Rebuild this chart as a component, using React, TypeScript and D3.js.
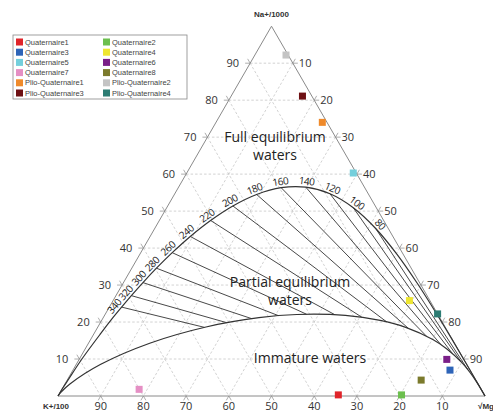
import React, { useEffect, useRef } from 'react';
import * as d3 from 'd3';

// full equilibrium curve (percent of Na/1000, K/100, sqrt Mg), temperatures in °C
const eqTemps = [1000, 700, 500, 400, 360, 340, 320, 300, 280, 260, 240, 220, 200, 180, 160, 140, 120, 100, 80, 60, 40, 20, 0];
const eqNa = [2.15, 4.5, 10.0, 16.85, 21.3, 24.04, 27.14, 30.67, 34.56, 38.76, 43.15, 47.47, 51.4, 54.5, 56.33, 56.46, 54.68, 50.9, 45.3, 38.3, 30.55, 22.73, 15.58];
const eqK = [97.8, 95.3, 89.4, 81.6, 76.4, 73.08, 69.25, 64.77, 59.66, 53.87, 47.45, 40.53, 33.35, 26.23, 19.57, 13.72, 8.96, 5.39, 2.95, 1.45, 0.63, 0.23, 0.07];
const eqMg = [0.05, 0.2, 0.6, 1.55, 2.3, 2.88, 3.61, 4.56, 5.78, 7.37, 9.4, 12.0, 15.25, 19.27, 24.1, 29.82, 36.36, 43.71, 51.75, 60.25, 68.82, 77.04, 84.35];

// labelled Na/K isotherms, end point on the immature waters line
const isoTemps = [340, 320, 300, 280, 260, 240, 220, 200, 180, 160, 140, 120, 100, 80];
const isoEndNa = [18.57, 19.83, 20.92, 21.72, 22.11, 22.0, 21.31, 20.06, 18.33, 16.23, 13.93, 11.56, 9.28, 7.18];
const isoEndK = [56.44, 50.58, 44.18, 37.5, 30.74, 24.19, 18.2, 13.02, 8.82, 5.64, 3.38, 1.89, 0.98, 0.47];
const isoEndMg = [24.99, 29.59, 34.9, 40.78, 47.15, 53.81, 60.49, 66.92, 72.85, 78.13, 82.69, 86.55, 89.74, 92.35];

// immature waters boundary
const immNa = [0, 0.99, 3.19, 8.57, 14.28, 18.67, 21.18, 22.04, 21.8, 20.45, 18.57, 15.28, 12.73, 9.01, 6.22, 3.74, 1.69, 0];
const immK = [100, 98.84, 95.69, 85.7, 71.38, 56.0, 42.36, 33.05, 21.8, 14.32, 9.28, 4.58, 2.55, 0.9, 0.31, 0.07, 0, 0];
const immMg = [0, 0.17, 1.12, 5.73, 14.34, 25.33, 36.46, 44.91, 56.4, 65.23, 72.15, 80.14, 84.72, 90.09, 93.47, 96.19, 98.31, 100];

// samples
const sampleNames = ['Quaternaire1', 'Quaternaire2', 'Quaternaire3', 'Quaternaire4', 'Quaternaire5', 'Quaternaire6',
  'Quaternaire7', 'Quaternaire8', 'Plio-Quaternaire1', 'Plio-Quaternaire2', 'Plio-Quaternaire3', 'Plio-Quaternaire4'];
const sampleNa = [0.3, 0.3, 7.0, 25.8, 60.3, 9.9, 1.8, 4.3, 74.0, 92.2, 81.1, 22.2];
const sampleK = [34.2, 19.4, 4.7, 4.8, 0.7, 4.0, 80.1, 12.8, 1.1, 0.5, 2.2, 0.0];
const sampleMg = [65.5, 80.3, 88.3, 69.4, 39.0, 86.1, 18.1, 82.9, 24.9, 7.3, 16.7, 77.8];
const sampleColors = ['#e0242a', '#6cbf4e', '#2e64b8', '#eee631', '#74cfdc', '#7a1f88',
  '#e58fc4', '#7b7a2c', '#ef8a2b', '#c4c4c4', '#6e1013', '#2c7c73'];

const ticks = [10, 20, 30, 40, 50, 60, 70, 80, 90];

const App = () => {
  const ref = useRef(null);

  useEffect(() => {
    const svg = d3.select(ref.current);
    svg.selectAll('*').remove();

    const left = 58, right = 485, base = 396;
    const side = right - left;
    const x = d3.scaleLinear().domain([0, 100]).range([left, right]);
    const y = d3.scaleLinear().domain([0, 100]).range([base, base - side * Math.sqrt(3) / 2]);
    const proj = (na, k, mg) => {
      const s = na + k + mg;
      return [x((mg + na / 2) / s * 100), y(na / s * 100)];
    };

    // dashed grid + ticks
    const grid = svg.append('g');
    ticks.forEach(v => {
      const segs = [
        [proj(v, 100 - v, 0), proj(v, 0, 100 - v)],
        [proj(100 - v, v, 0), proj(0, v, 100 - v)],
        [proj(100 - v, 0, v), proj(0, 100 - v, v)],
      ];
      segs.forEach(([a, b]) => {
        grid.append('line')
          .attr('x1', a[0]).attr('y1', a[1]).attr('x2', b[0]).attr('y2', b[1])
          .attr('stroke', '#c6c6c6').attr('stroke-width', 0.8).attr('stroke-dasharray', '2.5,2');
        const len = Math.hypot(b[0] - a[0], b[1] - a[1]);
        const ux = (b[0] - a[0]) / len, uy = (b[1] - a[1]) / len;
        [[a, -1], [b, 1]].forEach(([p, sgn]) => {
          grid.append('line')
            .attr('x1', p[0]).attr('y1', p[1])
            .attr('x2', p[0] + sgn * ux * 5).attr('y2', p[1] + sgn * uy * 5)
            .attr('stroke', '#999').attr('stroke-width', 0.8);
        });
      });
    });

    // triangle
    const corners = [proj(0, 100, 0), proj(0, 0, 100), proj(100, 0, 0)];
    svg.append('path')
      .attr('d', 'M' + corners.map(c => c.join(',')).join('L') + 'Z')
      .attr('fill', 'none').attr('stroke', '#8a8a8a').attr('stroke-width', 1);

    // axis labels
    const tickFont = (sel) => sel.attr('font-family', 'Open Sans, sans-serif').attr('font-size', 11).attr('fill', '#333');
    ticks.forEach(v => {
      const pl = proj(v, 100 - v, 0);
      svg.append('text').call(tickFont).attr('x', pl[0] - 11).attr('y', pl[1]).attr('dy', '0.35em')
        .attr('text-anchor', 'end').text(v);
      const pr = proj(100 - v, 0, v);
      svg.append('text').call(tickFont).attr('x', pr[0] + 6).attr('y', pr[1]).attr('dy', '0.35em')
        .attr('text-anchor', 'start').text(v);
      const pb = proj(0, v, 100 - v);
      svg.append('text').call(tickFont).attr('x', pb[0]).attr('y', pb[1] + 14)
        .attr('text-anchor', 'middle').text(v);
    });

    const vFont = (sel) => sel.attr('font-family', 'Liberation Sans, Arial, sans-serif').attr('font-size', 8)
      .attr('font-weight', 'bold').attr('fill', '#333').attr('text-anchor', 'middle');
    svg.append('text').call(vFont).attr('x', corners[2][0]).attr('y', corners[2][1] - 9).text('Na+/1000');
    svg.append('text').call(vFont).attr('x', corners[0][0] - 2).attr('y', base + 13).text('K+/100');
    svg.append('text').call(vFont).attr('x', corners[1][0] + 1).attr('y', base + 13).text('√Mg');

    const line = d3.line().curve(d3.curveCatmullRom.alpha(0.5));

    // full equilibrium curve
    const eqPts = [proj(0, 100, 0)].concat(eqTemps.map((t, i) => proj(eqNa[i], eqK[i], eqMg[i])), [proj(0, 0, 100)]);
    svg.append('path').attr('d', line(eqPts)).attr('fill', 'none').attr('stroke', '#333').attr('stroke-width', 1.2);

    // immature line
    const immPts = immNa.map((n, i) => proj(n, immK[i], immMg[i]));
    svg.append('path').attr('d', line(immPts)).attr('fill', 'none').attr('stroke', '#333').attr('stroke-width', 1.2);

    // isotherms + labels
    isoTemps.forEach((t, j) => {
      const i = eqTemps.indexOf(t);
      const p = proj(eqNa[i], eqK[i], eqMg[i]);
      const q = proj(isoEndNa[j], isoEndK[j], isoEndMg[j]);
      svg.append('line').attr('x1', p[0]).attr('y1', p[1]).attr('x2', q[0]).attr('y2', q[1])
        .attr('stroke', '#333').attr('stroke-width', 0.9);
      const a = proj(eqNa[i - 1], eqK[i - 1], eqMg[i - 1]);
      const b = proj(eqNa[i + 1], eqK[i + 1], eqMg[i + 1]);
      const dx = b[0] - a[0], dy = b[1] - a[1];
      const len = Math.hypot(dx, dy);
      const tx = dx / len, ty = dy / len;
      const nx = ty, ny = -tx;
      const ang = Math.atan2(dy, dx) * 180 / Math.PI;
      // spread the crowded labels at the hot end a little
      const along = t === 340 ? -4 : t === 320 ? -1.5 : t === 300 ? 0.5 : 0;
      const lx = p[0] + nx * 6 + tx * along, ly = p[1] + ny * 6 + ty * along;
      svg.append('text')
        .attr('transform', `translate(${lx},${ly}) rotate(${ang})`)
        .attr('text-anchor', 'middle').attr('dy', '0.35em')
        .attr('font-family', 'Open Sans, sans-serif').attr('font-size', 10).attr('letter-spacing', -0.5)
        .attr('fill', '#222')
        .text(t);
    });

    // region labels
    const regFont = (sel) => sel.attr('font-family', 'Open Sans, sans-serif').attr('font-size', 14)
      .attr('fill', '#222').attr('text-anchor', 'middle');
    svg.append('text').call(regFont).attr('x', 275).attr('y', 142).text('Full equilibrium');
    svg.append('text').call(regFont).attr('x', 275).attr('y', 160).text('waters');
    svg.append('text').call(regFont).attr('x', 290).attr('y', 287).text('Partial equilibrium');
    svg.append('text').call(regFont).attr('x', 290).attr('y', 305).text('waters');
    svg.append('text').call(regFont).attr('x', 310).attr('y', 363).text('Immature waters');

    // samples
    sampleNames.forEach((n, i) => {
      const p = proj(sampleNa[i], sampleK[i], sampleMg[i]);
      svg.append('rect').attr('x', p[0] - 3.5).attr('y', p[1] - 3.5).attr('width', 7).attr('height', 7)
        .attr('fill', sampleColors[i]);
    });

    // legend
    const lg = svg.append('g');
    lg.append('rect').attr('x', 13).attr('y', 35).attr('width', 174).attr('height', 64)
      .attr('fill', '#fff').attr('stroke', '#888').attr('stroke-width', 0.8);
    sampleNames.forEach((n, i) => {
      const col = i % 2, row = Math.floor(i / 2);
      const lx = col === 0 ? 16 : 103;
      const ly = 42 + row * 10.2;
      lg.append('rect').attr('x', lx).attr('y', ly - 3.5).attr('width', 7).attr('height', 7).attr('fill', sampleColors[i]);
      lg.append('text').attr('x', lx + 9).attr('y', ly).attr('dy', '0.35em')
        .attr('font-family', 'Liberation Sans, Arial, sans-serif').attr('font-size', 7.5).attr('fill', '#444')
        .text(n);
    });
  }, []);

  return (
    <svg ref={ref} width={493} height={412} style={{ position: 'absolute', left: 0, top: 0, background: '#fff' }}></svg>
  );
};

export default App;
